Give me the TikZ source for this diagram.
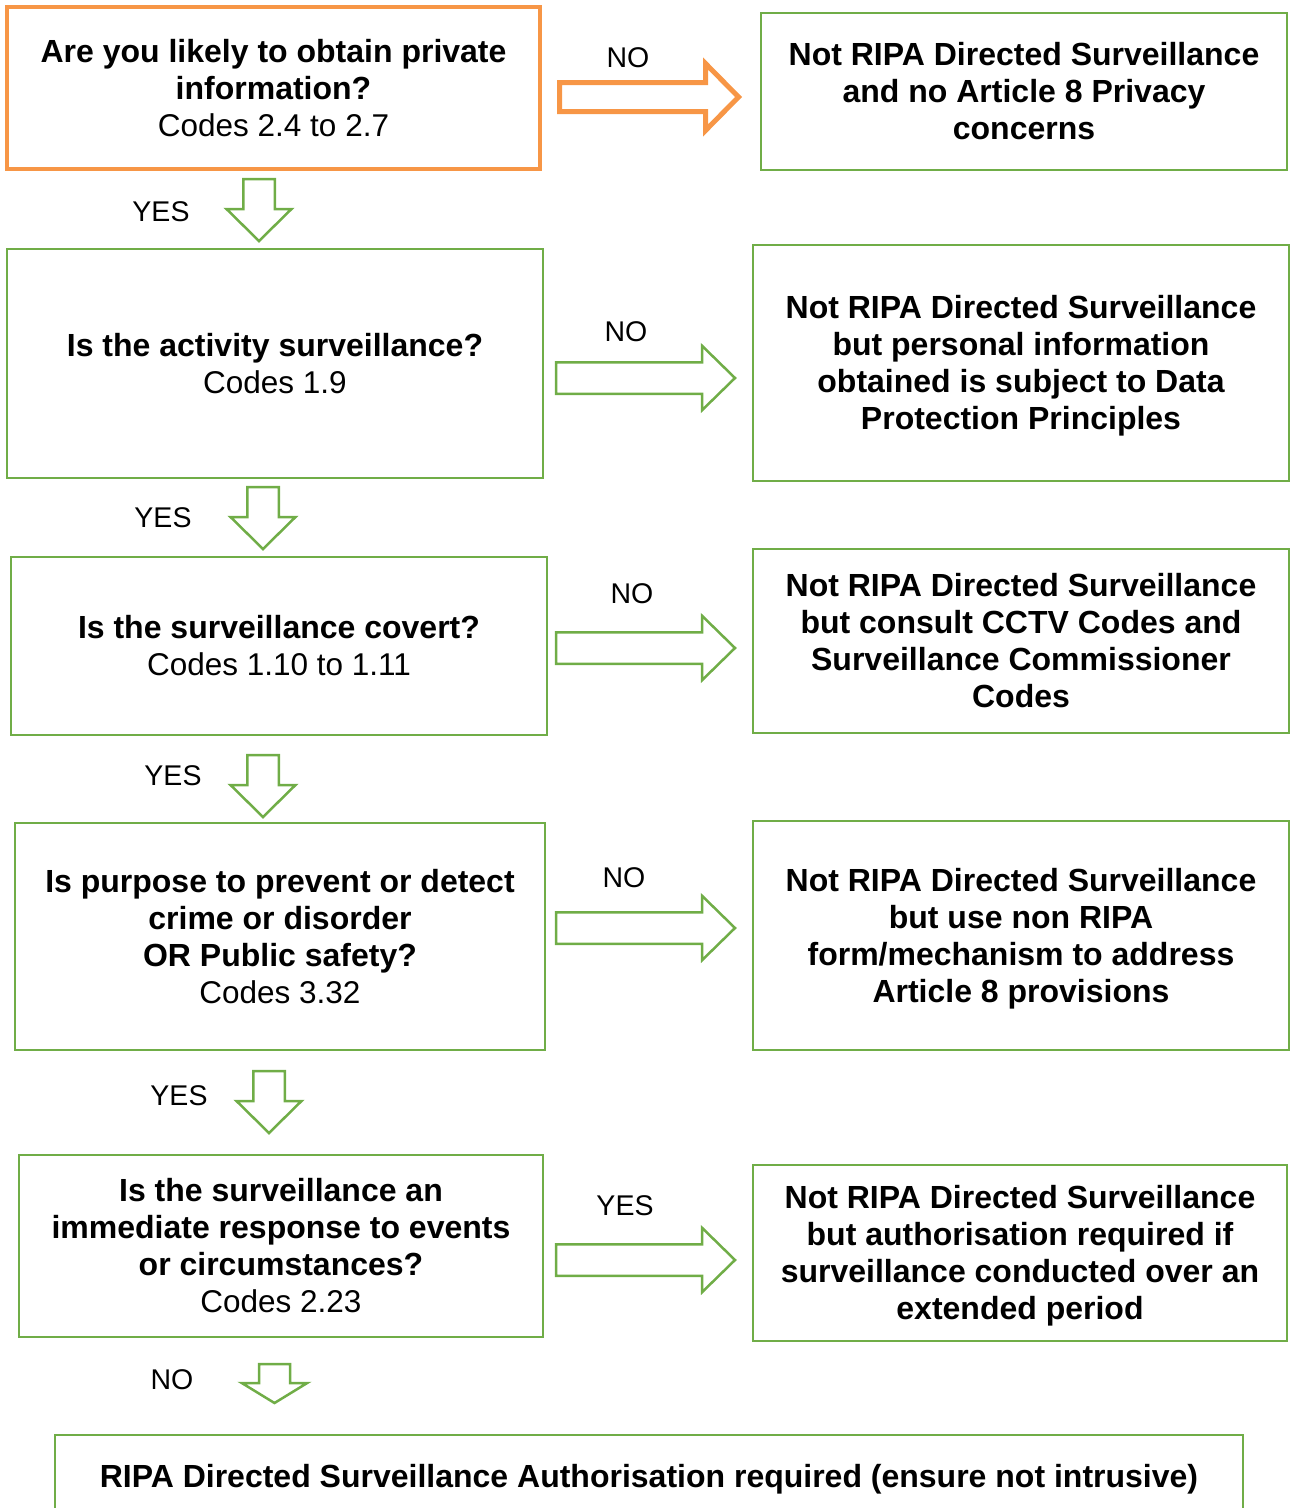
\documentclass[tikz,border=0pt]{standalone}
\usepackage{fontspec}
\setmainfont{Liberation Sans}
\usepackage{tikz}
\usepackage{xcolor}
\definecolor{mGreen}{HTML}{70AD47}
\definecolor{mOrange}{HTML}{F79646}
\newcommand{\boxfont}{\fontsize{31.5pt}{37pt}\selectfont}
\newcommand{\boldfont}{\fontsize{32pt}{37pt}\selectfont\bfseries}
\newcommand{\bt}[1]{{\boldfont #1}}
\newcommand{\tagfont}{\fontsize{28.5pt}{34pt}\selectfont}
% centred block of lines, same spacing in every box
\newcommand{\txt}[1]{\begin{tabular}{@{}c@{}}\rule{0pt}{34pt}#1\end{tabular}}

\begin{document}
\begin{tikzpicture}[x=1pt, y=-1pt,
    qbox/.style={draw=mGreen, line width=2.5pt, font=\boxfont, inner sep=0pt},
    abox/.style={qbox, font=\boldfont},
    tag/.style={font=\tagfont},
    % length, half shaft, half head, head length
    pics/blockarrow/.style n args={4}{code={
      \draw[pic actions] (0,-#2) -- ({#1-#4},-#2) -- ({#1-#4},-#3) -- (#1,0)
        -- ({#1-#4},#3) -- ({#1-#4},#2) -- (0,#2) -- cycle;}},
    garrow/.style={draw=mGreen, line width=2.5pt}]
        \useasboundingbox (0,0) rectangle (1290,1508);
        % questions on the left
        \node[qbox, draw=mOrange, line width=4pt, minimum width=533pt, minimum height=162pt] (q1) at (273.5,88)
          {\txt{\bt{Are you likely to obtain private}\\\bt{information?}\\Codes 2.4 to 2.7}};
        \node[qbox, minimum width=536pt, minimum height=229pt] (q2) at (275,363.5)
          {\txt{\bt{Is the activity surveillance?}\\Codes 1.9}};
        \node[qbox, minimum width=536pt, minimum height=178pt] (q3) at (279,646)
          {\txt{\bt{Is the surveillance covert?}\\Codes 1.10 to 1.11}};
        \node[qbox, minimum width=530pt, minimum height=227pt] (q4) at (280,936.5)
          {\txt{\bt{Is purpose to prevent or detect}\\\bt{crime or disorder}\\\bt{OR Public safety?}\\Codes 3.32}};
        \node[qbox, minimum width=524pt, minimum height=182pt] (q5) at (281,1246)
          {\txt{\bt{Is the surveillance an}\\\bt{immediate response to events}\\\bt{or circumstances?}\\Codes 2.23}};
        % answers on the right
        \node[abox, minimum width=526pt, minimum height=157pt] (r1) at (1024,91.5)
          {\txt{Not RIPA Directed Surveillance\\and no Article 8 Privacy\\concerns}};
        \node[abox, minimum width=536pt, minimum height=236pt] (r2) at (1021,363)
          {\txt{Not RIPA Directed Surveillance\\but personal information\\obtained is subject to Data\\Protection Principles}};
        \node[abox, minimum width=536pt, minimum height=184pt] (r3) at (1021,641)
          {\txt{Not RIPA Directed Surveillance\\but consult CCTV Codes and\\Surveillance Commissioner\\Codes}};
        \node[abox, minimum width=536pt, minimum height=229pt] (r4) at (1021,935.5)
          {\txt{Not RIPA Directed Surveillance\\but use non RIPA\\form/mechanism to address\\Article 8 provisions}};
        \node[abox, minimum width=534pt, minimum height=176pt] (r5) at (1020,1253)
          {\txt{Not RIPA Directed Surveillance\\but authorisation required if\\surveillance conducted over an\\extended period}};
        \node[abox, minimum width=1188pt, minimum height=82pt] (final) at (649,1476)
          {\txt{RIPA Directed Surveillance Authorisation required (ensure not intrusive)}};
        % block arrows to the right
        \pic[draw=mOrange, line width=5pt] (a1) at (559.5,97) {blockarrow={179}{14.5}{33.5}{33}};
        \pic[garrow] (a2) at (556,378) {blockarrow={179}{15.75}{32.25}{33}};
        \pic[garrow] (a3) at (556,648) {blockarrow={179}{15.75}{32.25}{33}};
        \pic[garrow] (a4) at (556,928) {blockarrow={179}{15.75}{32.25}{33}};
        \pic[garrow] (a5) at (556,1260) {blockarrow={179}{15.75}{32.25}{33}};
        % block arrows down
        \pic[garrow, rotate=-90] (d1) at (259,179) {blockarrow={62}{15.75}{32.5}{32}};
        \pic[garrow, rotate=-90] (d2) at (263,487) {blockarrow={62}{15.75}{32.5}{32}};
        \pic[garrow, rotate=-90] (d3) at (263,755) {blockarrow={62}{15.75}{32.5}{32}};
        \pic[garrow, rotate=-90] (d4) at (269,1071) {blockarrow={62}{15.75}{32.5}{32}};
        \pic[garrow, rotate=-90] (d5) at (274.5,1364) {blockarrow={39}{15.5}{32.7}{20}};
        % answers
        \node[tag] (n1) at (628,58) {NO};
        \node[tag] (n2) at (626,332) {NO};
        \node[tag] (n3) at (632,594) {NO};
        \node[tag] (n4) at (624,878) {NO};
        \node[tag] (y5) at (625,1206) {YES};
        \node[tag] (y1) at (161,212) {YES};
        \node[tag] (y2) at (163,518) {YES};
        \node[tag] (y3) at (173,776) {YES};
        \node[tag] (y4) at (179,1096) {YES};
        \node[tag] (n5) at (172,1380) {NO};
      \end{tikzpicture}
\end{document}
